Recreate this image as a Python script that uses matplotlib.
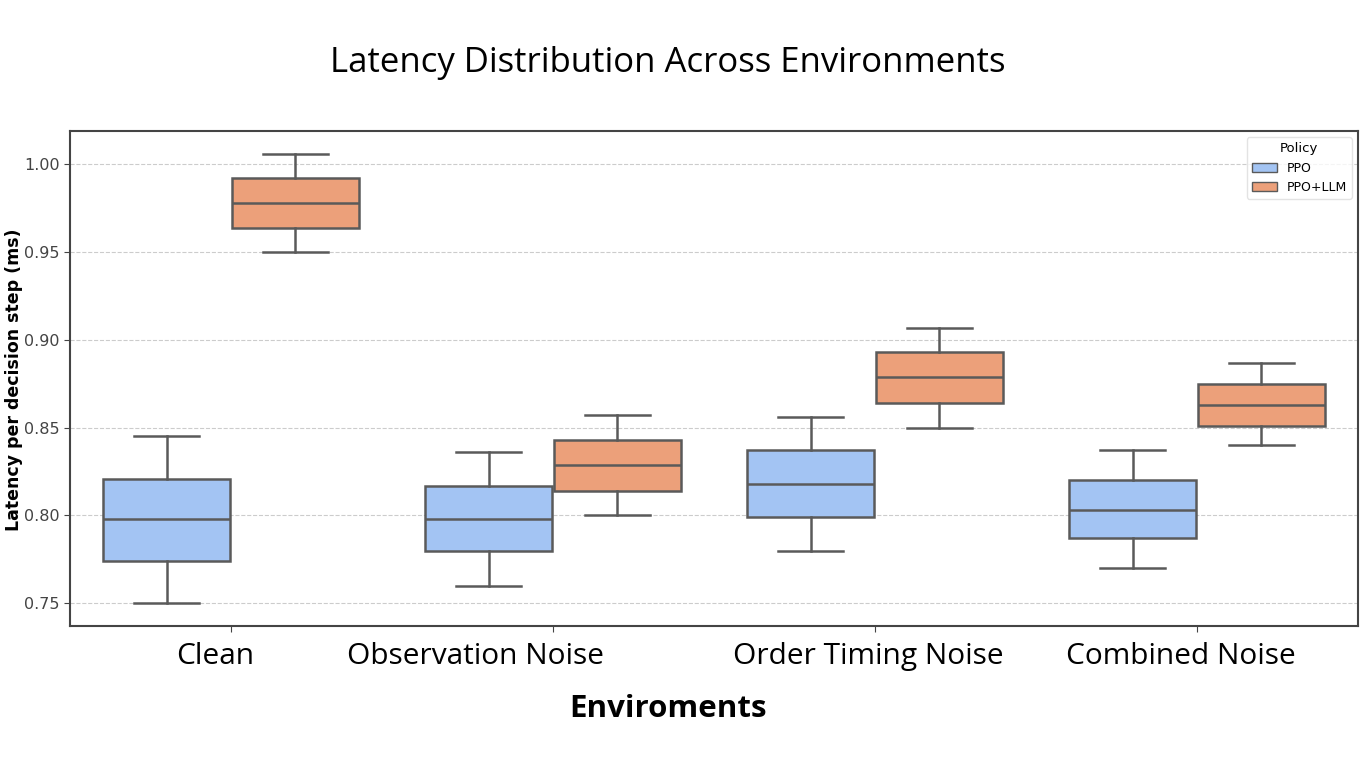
import matplotlib.pyplot as plt
from matplotlib.patches import Patch

environments = ["Clean", "Observation Noise", "Order Timing Noise", "Combined Noise"]
policies = ["PPO", "PPO+LLM"]

# box stats: whislo, q1, median, q3, whishi
ppo_stats = [
    [0.750, 0.774, 0.798, 0.821, 0.845],
    [0.760, 0.780, 0.798, 0.817, 0.836],
    [0.780, 0.799, 0.818, 0.837, 0.856],
    [0.770, 0.787, 0.803, 0.820, 0.837],
]
llm_stats = [
    [0.950, 0.964, 0.978, 0.992, 1.006],
    [0.800, 0.814, 0.829, 0.843, 0.857],
    [0.850, 0.864, 0.879, 0.893, 0.907],
    [0.840, 0.851, 0.863, 0.875, 0.887],
]
yticks = [0.75, 0.80, 0.85, 0.90, 0.95, 1.00]

colors = ["#a3c4f3", "#eca07a"]
edge = "#5a5a5a"

fig = plt.figure(figsize=(13.66, 7.68), dpi=100)
ax = fig.add_axes([70 / 1366, 1 - 626 / 768, 1288 / 1366, 495 / 768])


def to_bxp(s):
    return dict(whislo=s[0], q1=s[1], med=s[2], q3=s[3], whishi=s[4], fliers=[])


for k, (stats, offset) in enumerate([(ppo_stats, -0.2), (llm_stats, 0.2)]):
    pos = [i + offset for i in range(len(environments))]
    ax.bxp([to_bxp(s) for s in stats], positions=pos, widths=0.395,
           patch_artist=True, showfliers=False,
           boxprops=dict(facecolor=colors[k], edgecolor=edge, linewidth=1.8),
           medianprops=dict(color=edge, linewidth=1.8),
           whiskerprops=dict(color=edge, linewidth=1.8),
           capprops=dict(color=edge, linewidth=1.8),
           capwidths=0.2)

ax.set_xlim(-0.5, 3.5)
ax.set_ylim(0.737, 1.019)
ax.set_yticks(yticks)
ax.set_yticklabels([f"{v:.2f}" for v in yticks], fontsize=11.5, color="#444444")
ax.grid(axis="y", linestyle="--", color="#cccccc", linewidth=0.8)
ax.set_axisbelow(True)
for sp in ax.spines.values():
    sp.set_color("#444444")
    sp.set_linewidth(1.5)
ax.tick_params(axis="both", color="#444444", length=4)

ax.set_xticks(range(len(environments)))
ax.set_xticklabels([])
label_shift = [-0.05, 0.76, 1.98, 2.95]
for x, name in zip(label_shift, environments):
    ax.text(x, -0.062, name, transform=ax.get_xaxis_transform(), ha="center", va="center",
            fontsize=21.5, family="Open Sans")

fig.text(14 / 1366, 1 - 380 / 768, "Latency per decision step (ms)", rotation=90,
         ha="center", va="center", fontsize=12.5, fontweight="bold")
fig.text(668 / 1366, 1 - 709 / 768, "Enviroments", ha="center", va="center",
         fontsize=22.5, fontweight="bold", family="Open Sans")
fig.text(668 / 1366, 1 - 63 / 768, "Latency Distribution Across Environments", ha="center",
         va="center", fontsize=25, family="Open Sans")

handles = [Patch(facecolor=c, edgecolor=edge, label=p) for c, p in zip(colors, policies)]
leg = ax.legend(handles=handles, title="Policy", loc="upper right", fontsize=9,
                title_fontsize=9.5, frameon=True)
leg.get_frame().set_edgecolor("#dddddd")

fig.savefig("out.png", dpi=100)
